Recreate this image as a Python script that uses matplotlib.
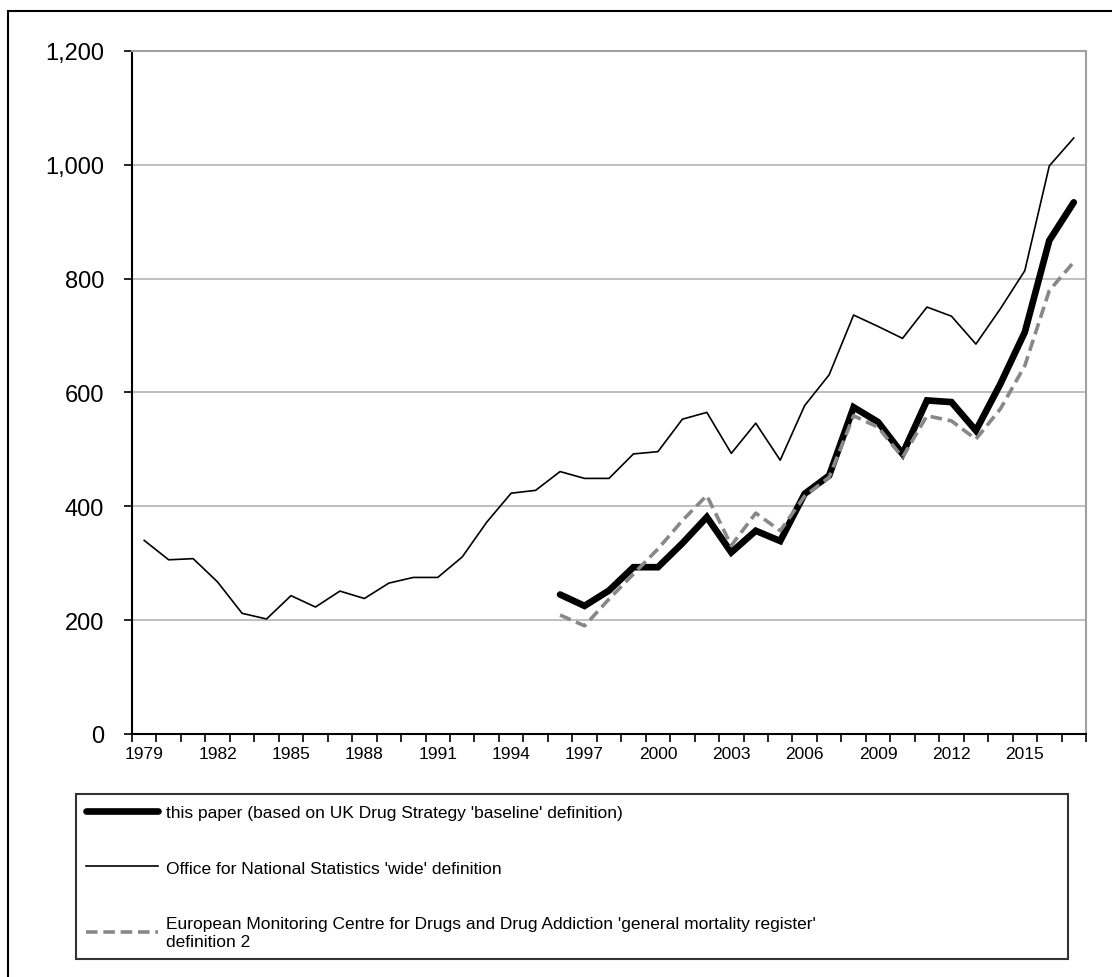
import numpy as np
import matplotlib.pyplot as plt
from matplotlib.patches import Rectangle

plt.rcParams['font.family'] = ['Liberation Sans', 'DejaVu Sans']

years = list(range(1979, 2018))

ons_wide = [340, 306, 308, 267, 212, 202, 243, 223, 251, 238, 265, 275, 275,
            311, 372, 423, 428, 461, 449, 449, 492, 496, 553, 565, 493, 546,
            481, 577, 631, 736, 716, 695, 750, 734, 685, 747, 814, 998, 1047]

baseline = [np.nan] * 17 + [245, 225, 252, 293, 293, 335, 381, 319, 357, 339,
                            422, 454, 574, 548, 492, 586, 583, 533, 615, 706,
                            867, 934]

emcdda = [np.nan] * 17 + [209, 190, 237, 281, 325, 375, 419, 331, 388, 357,
                          418, 451, 559, 539, 486, 559, 550, 518, 571, 647,
                          779, 829]

labels = ["this paper (based on UK Drug Strategy 'baseline' definition)",
          "Office for National Statistics 'wide' definition",
          "European Monitoring Centre for Drugs and Drug Addiction 'general mortality register'\ndefinition 2"]

y_ticks = [0, 200, 400, 600, 800, 1000, 1200]
y_tick_labels = ['0', '200', '400', '600', '800', '1,000', '1,200']

fig = plt.figure(figsize=(11.12, 9.78), dpi=100)
ax = fig.add_axes([0.1187, 0.2485, 0.8579, 0.6984])

x = np.arange(len(years))
h1, = ax.plot(x, baseline, color='black', lw=4.8, solid_capstyle='round',
              solid_joinstyle='miter', zorder=4)
h2, = ax.plot(x, ons_wide, color='black', lw=1.2, zorder=3)
h3, = ax.plot(x, emcdda, color='#888888', lw=2.6, dashes=(3.2, 1.6), zorder=5)

ax.set_xlim(-0.5, len(years) - 0.5)
ax.set_ylim(0, 1200)
ax.set_yticks(y_ticks)
ax.set_yticklabels(y_tick_labels)
ax.yaxis.grid(True, color='#b4b4b4', lw=1.2)
ax.set_axisbelow(True)
ax.tick_params(axis='y', labelsize=17, length=6, width=1.2, pad=14, direction='out')

# ticks between categories, labels every 3 years at centres
ax.set_xticks(np.arange(-0.5, len(years), 1.0))
ax.set_xticklabels([])
ax.set_xticks(x[::3], minor=True)
ax.set_xticklabels([str(y) for y in years[::3]], minor=True)
ax.tick_params(axis='x', which='major', length=6, width=1.2, direction='out')
ax.tick_params(axis='x', which='minor', length=0, labelsize=12.5, pad=9)

for s in ['top', 'right']:
    ax.spines[s].set_color('#a0a0a0')
    ax.spines[s].set_linewidth(1.5)
for s in ['left', 'bottom']:
    ax.spines[s].set_color('black')
    ax.spines[s].set_linewidth(1.5)

leg = fig.legend([h1, h2, h3], labels, loc='upper left',
                 bbox_to_anchor=(0.0683, 0.0204, 0.892, 0.1667),
                 mode='expand', borderaxespad=0, fontsize=12.5,
                 frameon=True, fancybox=False, handlelength=4.15,
                 handletextpad=0.45, labelspacing=2.35, borderpad=0.6)
leg.get_frame().set_edgecolor('black')
leg.get_frame().set_linewidth(1.5)

# outer chart border (cut off at right and bottom)
fig.patches.append(Rectangle((0.0072, -0.5), 2.0, 0.5 + 0.9877, transform=fig.transFigure,
                             fill=False, edgecolor='black', lw=1.5))

fig.savefig('out.png', dpi=100)
